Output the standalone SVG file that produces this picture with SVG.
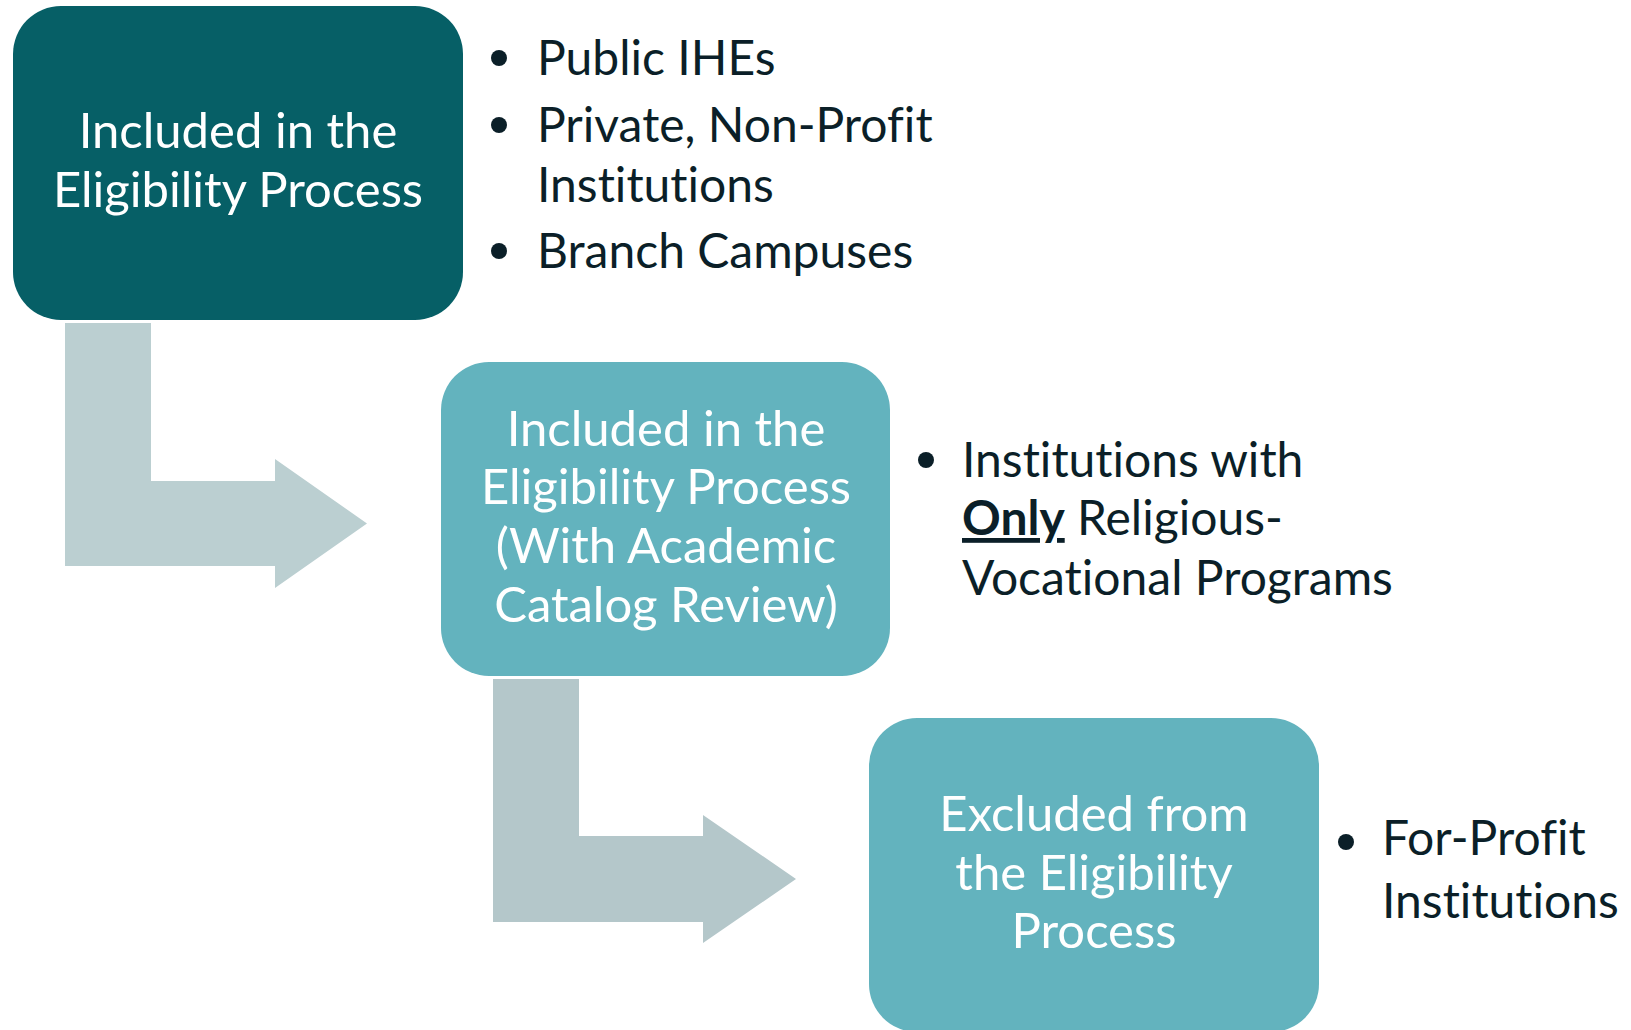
<svg xmlns="http://www.w3.org/2000/svg" width="1631" height="1030" viewBox="0 0 1631 1030">
<style>
.box1{fill:#065F66}
.box2{fill:#63B3BE}
.conn1{fill:#BBCFD1}
.conn2{fill:#B4C7CA}
.lbl{font-family:Lato,"Open Sans","Liberation Sans",sans-serif;font-size:49px;fill:#FFFFFF;text-anchor:middle;font-variant-ligatures:none}
.bul{font-family:Lato,"Open Sans","Liberation Sans",sans-serif;font-size:48px;fill:#0B1F28;font-variant-ligatures:none}
.dot{fill:#0B1F28}
</style>
<rect width="1631" height="1030" fill="#FFFFFF"/>
<g id="connectors">
<polygon class="conn1" points="65,323 151,323 151,481 275,481 275,459 367,523.5 275,588 275,566 65,566"/>
<polygon class="conn2" points="493,679 579,679 579,836 703,836 703,815 796,879 703,943 703,922 493,922"/>
</g>
<g id="node-included">
<rect class="box1" x="13" y="6" width="450" height="314" rx="48" ry="48"/>
<text class="lbl" x="238" y="148">Included in the</text>
<text class="lbl" x="238" y="207">Eligibility Process</text>
</g>
<g id="node-included-review">
<rect class="box2" x="441" y="362" width="449" height="314" rx="48" ry="48"/>
<text class="lbl" x="666" y="446">Included in the</text>
<text class="lbl" x="666" y="504">Eligibility Process</text>
<text class="lbl" x="666" y="563">(With Academic</text>
<text class="lbl" x="666" y="622">Catalog Review)</text>
</g>
<g id="node-excluded">
<rect class="box2" x="869" y="718" width="450" height="314" rx="48" ry="48"/>
<text class="lbl" x="1094" y="831">Excluded from</text>
<text class="lbl" x="1094" y="890">the Eligibility</text>
<text class="lbl" x="1094" y="948">Process</text>
</g>
<g id="list-included">
<circle class="dot" cx="499" cy="58" r="8"/>
<text class="bul" x="537" y="75">Public IHEs</text>
<circle class="dot" cx="499" cy="125" r="8"/>
<text class="bul" x="537" y="142">Private, Non-Profit</text>
<text class="bul" x="537" y="202">Institutions</text>
<circle class="dot" cx="499" cy="251" r="8"/>
<text class="bul" x="537" y="268">Branch Campuses</text>
</g>
<g id="list-included-review">
<circle class="dot" cx="926" cy="460" r="8"/>
<text class="bul" x="962" y="477">Institutions with</text>
<text class="bul" x="962" y="535"><tspan font-weight="bold" text-decoration="underline">Only</tspan> Religious-</text>
<text class="bul" x="962" y="595">Vocational Programs</text>
</g>
<g id="list-excluded">
<circle class="dot" cx="1346" cy="842" r="8"/>
<text class="bul" x="1382" y="855">For-Profit</text>
<text class="bul" x="1382" y="918">Institutions</text>
</g>
</svg>
